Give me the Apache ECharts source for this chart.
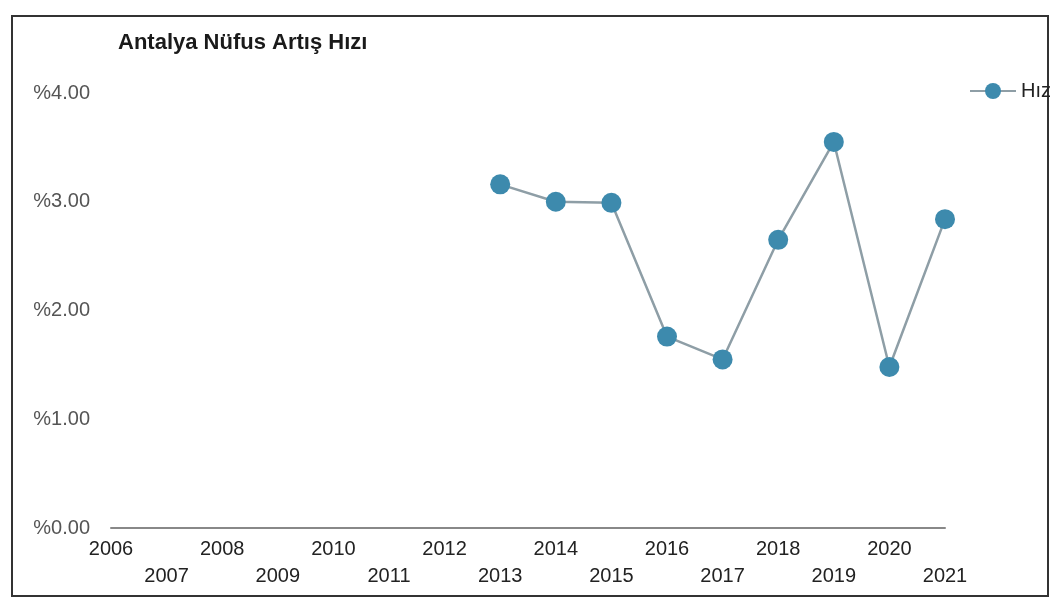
<!DOCTYPE html>
<html>
<head>
<meta charset="utf-8">
<script src="https://cdn.jsdelivr.net/npm/echarts@6/dist/echarts.min.js"></script>
<style>
  html, body { margin: 0; padding: 0; background: #fff; }
  #main { width: 1062px; height: 615px; }
</style>
</head>
<body>
<div id="main"></div>
<script>
var years = ['2006','2007','2008','2009','2010','2011','2012','2013','2014','2015','2016','2017','2018','2019','2020','2021'];
var hiz = [null, null, null, null, null, null, null, 3.16, 3.00, 2.99, 1.76, 1.55, 2.65, 3.55, 1.48, 2.84];
var yTicks = [0, 1, 2, 3, 4];

var myChart = echarts.init(document.getElementById('main'));
myChart.setOption({
    textStyle: { fontFamily: 'Liberation Sans, Arial, sans-serif' },
    title: {
        text: 'Antalya Nüfus Artış Hızı',
        left: 113,
        top: 27,
        textStyle: { color: '#1a1a1a', fontSize: 22, fontWeight: 'bold' }
    },
    legend: {
        data: ['Hız'],
        right: 6,
        top: 76,
        itemWidth: 46,
        itemHeight: 20,
        itemGap: 6,
        textStyle: { color: '#222', fontSize: 20 }
    },
    graphic: [{
        type: 'rect',
        shape: { x: 12, y: 16, width: 1036, height: 580 },
        style: { fill: 'none', stroke: '#333', lineWidth: 2 }
    }],
    grid: { left: 111, right: 117, top: 93, bottom: 87 },
    xAxis: {
        type: 'category',
        data: years,
        boundaryGap: false,
        axisLine: { show: true, lineStyle: { color: '#888', width: 2 } },
        axisTick: { show: false },
        axisLabel: {
            interval: 0,
            color: '#222',
            fontSize: 20,
            lineHeight: 27,
            margin: 8,
            formatter: function (v, i) { return i % 2 ? '\n' + v : v; }
        }
    },
    yAxis: {
        type: 'value',
        min: yTicks[0],
        max: yTicks[yTicks.length - 1],
        interval: 1,
        axisLine: { show: false },
        axisTick: { show: false },
        splitLine: { show: false },
        axisLabel: {
            color: '#555',
            fontSize: 20,
            margin: 21,
            formatter: function (v) { return '%' + v.toFixed(2); }
        }
    },
    series: [{
        name: 'Hız',
        type: 'line',
        data: hiz,
        connectNulls: false,
        symbol: 'circle',
        symbolSize: 20,
        lineStyle: { color: '#8e9ea6', width: 2.5 },
        itemStyle: { color: '#3d8aad' }
    }]
});
</script>
</body>
</html>
